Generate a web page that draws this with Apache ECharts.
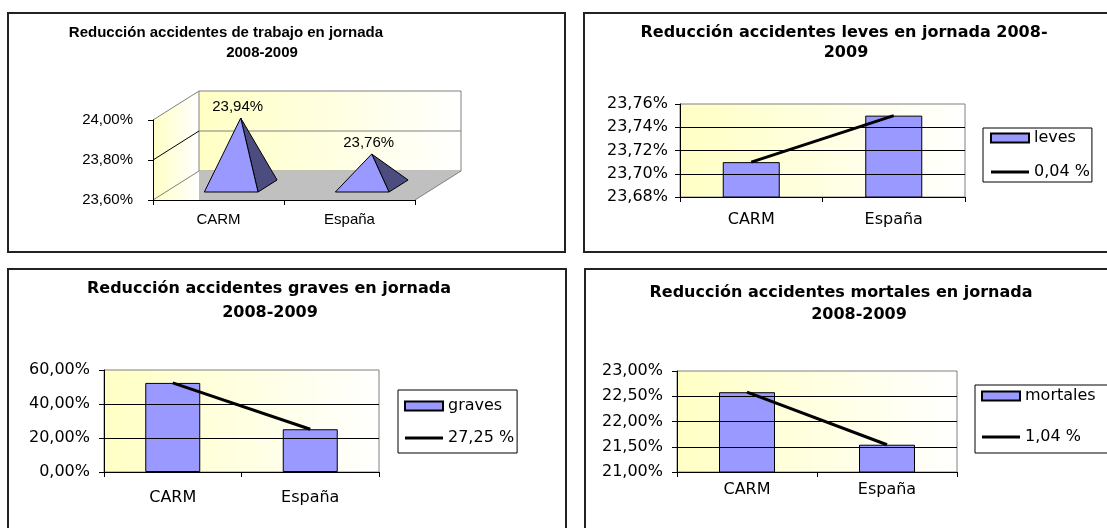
<!DOCTYPE html>
<html lang="es">
<head>
<meta charset="UTF-8">
<title>Reducción accidentes en jornada 2008-2009</title>
<script src="https://cdn.jsdelivr.net/npm/echarts@6/dist/echarts.min.js"></script>
<style>
    html, body { margin: 0; padding: 0; background: #fff; }
    #main { width: 1107px; height: 528px; }
</style>
</head>
<body>
<div id="main"></div>
<script type="text/javascript">
    // datos de los cuatro gráficos
    var categorias = ['CARM', 'España'];
    var trabajo = [23.94, 23.76];
    var leves = [23.71, 23.75];
    var graves = [52.4, 25.15];
    var mortales = [22.58, 21.54];

    // nombres de leyenda: serie y diferencia CARM - España
    var nombresLeves = ['leves', '0,04 %'];
    var nombresGraves = ['graves', '27,25 %'];
    var nombresMortales = ['mortales', '1,04 %'];

    // escalas de los ejes: [min, max, intervalo]
    var escalaTrabajo = [23.6, 24.0, 0.2];
    var escalaLeves = [23.68, 23.76, 0.02];
    var escalaGraves = [0, 60, 20];
    var escalaMortales = [21, 23, 0.5];

    var arial = 'Liberation Sans, Arial, sans-serif';
    var ancha = 'DejaVu Sans, sans-serif';
    var azul = '#9999FF';
    var lineaIcono = 'path://M0 0H40V3H0Z';

    function pct(v) {
        return v.toFixed(2).replace('.', ',') + '%';
    }

    function fondoAmarillo() {
        return new echarts.graphic.LinearGradient(0, 0, 1, 0, [
            {offset: 0, color: '#FFFFC4'},
            {offset: 1, color: '#FFFFFF'}
        ]);
    }

    // perspectiva del gráfico 3D
    var fondoX = 46, fondoY = 29;

    // paredes, suelo y líneas de división del gráfico 3D
    function renderParedes(params, api) {
        var cs = params.coordSys;
        var x0 = cs.x, x1 = cs.x + cs.width, yt = cs.y, yb = cs.y + cs.height;
        var hijos = [
            {type: 'polygon', shape: {points: [[x0, yt], [x0 + fondoX, yt - fondoY], [x0 + fondoX, yb], [x0, yb]]},
                style: {fill: fondoAmarillo()}},
            {type: 'rect', shape: {x: x0 + fondoX, y: yt - fondoY, width: cs.width, height: cs.height},
                style: {fill: fondoAmarillo(), stroke: '#808080', lineWidth: 1}},
            {type: 'polygon', shape: {points: [[x0 + fondoX, yb - fondoY], [x1 + fondoX, yb - fondoY], [x1, yb], [x0 + fondoX, yb]]},
                style: {fill: '#C0C0C0'}},
            {type: 'line', shape: {x1: x1 + fondoX, y1: yb - fondoY, x2: x1, y2: yb},
                style: {stroke: '#808080', lineWidth: 1}}
        ];
        var n = Math.round((escalaTrabajo[1] - escalaTrabajo[0]) / escalaTrabajo[2]);
        for (var i = 0; i <= n; i++) {
            var y = api.coord([0, escalaTrabajo[0] + i * escalaTrabajo[2]])[1];
            var interior = i > 0 && i < n;
            hijos.push({type: 'line', shape: {x1: x0, y1: y, x2: x0 + fondoX, y2: y - fondoY},
                style: {stroke: interior ? '#000' : '#808080', lineWidth: 1}});
            if (interior) {
                hijos.push({type: 'line', shape: {x1: x0 + fondoX, y1: y - fondoY, x2: x1 + fondoX, y2: y - fondoY},
                    style: {stroke: '#808080', lineWidth: 1}});
            }
        }
        return {type: 'group', children: hijos};
    }

    // pirámide en perspectiva
    function renderPiramide(params, api) {
        var cat = api.value(0), v = api.value(1);
        var base = api.coord([cat, escalaTrabajo[0]]);
        var cima = api.coord([cat, v]);
        var hw = api.size([1, 0])[0] * 0.205;
        var k = fondoX / fondoY;
        var dF = 8, dB = 20, dM = 14;
        var fl = [base[0] - hw + dF * k, base[1] - dF];
        var fr = [base[0] + hw + dF * k, base[1] - dF];
        var br = [base[0] + hw + dB * k, base[1] - dB];
        var apex = [cima[0] + dM * k, cima[1] - dM];
        return {
            type: 'group',
            children: [
                {type: 'polygon', shape: {points: [fr, br, apex]}, style: {fill: '#4C4C80', stroke: '#000', lineWidth: 1}},
                {type: 'polygon', shape: {points: [fl, fr, apex]}, style: {fill: azul, stroke: '#000', lineWidth: 1}},
                {type: 'text', style: {text: pct(v), x: apex[0] - 3, y: apex[1] - 4, textAlign: 'center',
                    textVerticalAlign: 'bottom', font: '15px ' + arial, fill: '#000'}}
            ]
        };
    }

    function ejeX(grid, fuente, size, margen) {
        return {
            type: 'category', gridIndex: grid, data: categorias, z: 5,
            axisLine: {lineStyle: {color: '#000', width: 1}},
            axisTick: {show: true, length: 5, lineStyle: {color: '#000'}},
            axisLabel: {color: '#000', fontFamily: fuente, fontSize: size, margin: margen},
            splitLine: {show: false}
        };
    }

    function ejeY(grid, escala, fuente, size, margen, rejilla) {
        return {
            type: 'value', gridIndex: grid, min: escala[0], max: escala[1], interval: escala[2], z: 5,
            axisLine: {show: true, lineStyle: {color: '#000', width: 1}},
            axisTick: {show: true, length: 5, lineStyle: {color: '#000'}},
            axisLabel: {color: '#000', fontFamily: fuente, fontSize: size, margin: margen, formatter: pct},
            splitLine: {show: rejilla, showMaxLine: false, lineStyle: {color: '#000', width: 1}}
        };
    }

    function gridPlano(left, top, width, height) {
        return {
            left: left, top: top, width: width, height: height, show: true,
            backgroundColor: fondoAmarillo(), borderColor: '#808080', borderWidth: 1
        };
    }

    function barras(nombre, idx, datos) {
        return {
            name: nombre, type: 'bar', xAxisIndex: idx, yAxisIndex: idx, data: datos, barWidth: '40%',
            itemStyle: {color: azul, borderColor: '#000', borderWidth: 1}
        };
    }

    function linea(nombre, idx, datos) {
        return {
            name: nombre, type: 'line', xAxisIndex: idx, yAxisIndex: idx, data: datos, z: 4,
            symbol: 'none', lineStyle: {color: '#000', width: 3}, itemStyle: {color: '#000'}
        };
    }

    function leyenda(nombres, left, top, padding, gap) {
        return {
            orient: 'vertical', left: left, top: top, padding: padding, itemGap: gap,
            itemWidth: 38, itemHeight: 9, selectedMode: false,
            borderColor: '#000', borderWidth: 1, backgroundColor: '#fff',
            textStyle: {color: '#000', fontFamily: ancha, fontSize: 16},
            data: [{name: nombres[0], icon: 'rect'}, {name: nombres[1], icon: lineaIcono}]
        };
    }

    function texto(t, x, y, font) {
        return {type: 'text', style: {text: t, x: x, y: y, textAlign: 'center', textVerticalAlign: 'middle', font: font, fill: '#000'}};
    }

    function marco(x, y, w, h) {
        return {type: 'rect', z: -10, shape: {x: x, y: y, width: w, height: h},
            style: {fill: 'none', stroke: '#222', lineWidth: 2}};
    }

    var myChart = echarts.init(document.getElementById('main'));

    var tituloTL = 'bold 15px ' + arial;
    var tituloAncho = 'bold 16px ' + ancha;

    var option = {
        animation: false,
        backgroundColor: '#fff',
        graphic: [
            marco(8, 13, 557, 239),
            marco(584, 13, 540, 239),
            marco(8, 269, 558, 280),
            marco(585, 269, 540, 280),
            texto('Reducción accidentes de trabajo en jornada', 226, 33, tituloTL),
            texto('2008-2009', 262, 53, tituloTL),
            texto('Reducción accidentes leves en jornada 2008-', 844, 33, tituloAncho),
            texto('2009', 846, 53, tituloAncho),
            texto('Reducción accidentes graves en jornada', 269, 289, tituloAncho),
            texto('2008-2009', 270, 313, tituloAncho),
            texto('Reducción accidentes mortales en jornada', 841, 293, tituloAncho),
            texto('2008-2009', 859, 315, tituloAncho)
        ],
        grid: [
            {left: 153, top: 120, width: 262, height: 80},
            gridPlano(680, 104, 285, 93),
            gridPlano(104, 370, 275, 102),
            gridPlano(677, 371, 280, 101)
        ],
        legend: [
            leyenda(nombresLeves, 983, 128, [2, 2, 2, 7], 18),
            leyenda(nombresGraves, 398, 390, [8, 3, 7, 6], 16),
            leyenda(nombresMortales, 975, 385, [3, 40, 8, 6], 25)
        ],
        xAxis: [
            ejeX(0, arial, 15, 12),
            ejeX(1, ancha, 16, 15),
            ejeX(2, ancha, 16, 18),
            ejeX(3, ancha, 16, 10)
        ],
        yAxis: [
            ejeY(0, escalaTrabajo, arial, 15, 20, false),
            ejeY(1, escalaLeves, ancha, 16, 12, true),
            ejeY(2, escalaGraves, ancha, 16, 14, true),
            ejeY(3, escalaMortales, ancha, 16, 14, true)
        ],
        series: [
            {
                type: 'custom', name: 'paredes', xAxisIndex: 0, yAxisIndex: 0, z: 1,
                renderItem: renderParedes, data: [[0, escalaTrabajo[0]]], silent: true
            },
            {
                type: 'custom', name: 'trabajo', xAxisIndex: 0, yAxisIndex: 0, z: 3,
                renderItem: renderPiramide, encode: {x: 0, y: 1},
                data: trabajo.map(function (v, i) { return [i, v]; })
            },
            barras(nombresLeves[0], 1, leves),
            linea(nombresLeves[1], 1, leves),
            barras(nombresGraves[0], 2, graves),
            linea(nombresGraves[1], 2, graves),
            barras(nombresMortales[0], 3, mortales),
            linea(nombresMortales[1], 3, mortales)
        ]
    };

    myChart.setOption(option);
</script>
</body>
</html>
